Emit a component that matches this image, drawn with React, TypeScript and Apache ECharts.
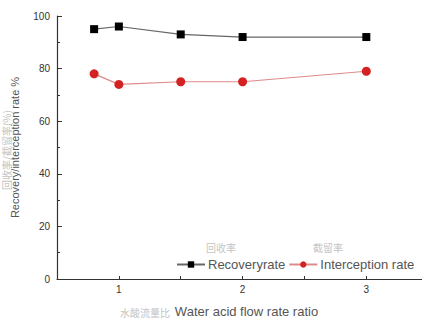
import React, { useEffect, useRef } from "react";
import * as echarts from "echarts";

const ratios = [0.8, 1, 1.5, 2, 3];
const recoveryRate = [95, 96, 93, 92, 92];
const interceptionRate = [78, 74, 75, 75, 79];
const xTickValues = [1, 1.5, 2, 2.5, 3];
const xLabelValues = [1, 2, 3];
const seriesNames = ["Recoveryrate", "Interception rate"];
const seriesNamesZh = ["回收率", "截留率"];
const xAxisName = "Water acid flow rate ratio";
const xAxisNameZh = "水酸流量比";
const yAxisName = "Recovery/interception rate %";
const yAxisNameZh = "回收率/截留率(%)";

export default function App() {
  const ref = useRef<HTMLDivElement>(null);
  useEffect(() => {
    const chart = echarts.init(ref.current!, null, { renderer: "svg" });
    const font = "Arial, 'Liberation Sans', sans-serif";
    const zhStyle = { fill: "#c4c4c4", fontSize: 10, fontFamily: "'Noto Sans CJK SC'" };
    chart.setOption({
      animation: false,
      backgroundColor: "#ffffff",
      textStyle: { fontFamily: font },
      grid: { left: 57, top: 16, bottom: 37, right: 0, containLabel: false },
      legend: {
        orient: "horizontal",
        left: 171,
        top: 253,
        width: 251,
        itemWidth: 28,
        itemHeight: 8,
        itemGap: 3,
        textStyle: { fontSize: 13, color: "#555", fontFamily: font, padding: [0, 0, 0, -2] },
        data: seriesNames,
      },
      xAxis: {
        type: "value",
        min: 0.5,
        max: 3.45,
        interval: 0.5,
        name: xAxisName,
        nameLocation: "middle",
        nameGap: 26,
        nameTextStyle: { fontSize: 13, color: "#555", padding: [0, 0, 0, 14] },
        axisLine: { lineStyle: { color: "#333", width: 1.2 } },
        axisTick: { show: true, inside: true, length: 3, customValues: xTickValues, lineStyle: { color: "#333" } },
        axisLabel: {
          customValues: xLabelValues,
          fontSize: 10,
          color: "#333",
          margin: 5,
          formatter: (v: number) => String(v),
        },
        splitLine: { show: false },
      },
      yAxis: {
        type: "value",
        min: 0,
        max: 100,
        interval: 20,
        name: yAxisName,
        nameLocation: "middle",
        nameGap: 37,
        nameTextStyle: { fontSize: 11, color: "#555" },
        axisLine: { show: true, lineStyle: { color: "#333", width: 1.2 } },
        axisTick: { show: true, inside: true, length: 5, lineStyle: { color: "#333" } },
        minorTick: { show: true, splitNumber: 2, length: 3, lineStyle: { color: "#333" } },
        axisLabel: { fontSize: 10, color: "#333", margin: 7 },
        splitLine: { show: false },
      },
      graphic: [
        { type: "text", left: 206, top: 242, z: -1, style: { text: seriesNamesZh[0], ...zhStyle } },
        { type: "text", left: 313, top: 242, z: -1, style: { text: seriesNamesZh[1], ...zhStyle } },
        { type: "text", left: 120, top: 307, z: -1, style: { text: xAxisNameZh, ...zhStyle } },
        {
          type: "text",
          x: 6,
          y: 150,
          rotation: Math.PI / 2,
          z: -1,
          style: { text: yAxisNameZh, ...zhStyle, align: "center", verticalAlign: "middle" },
        },
      ],
      series: [
        {
          name: seriesNames[0],
          type: "line",
          data: ratios.map((x, i) => [x, recoveryRate[i]]),
          symbol: "rect",
          symbolSize: 8,
          itemStyle: { color: "#000" },
          lineStyle: { color: "#666", width: 1.2 },
        },
        {
          name: seriesNames[1],
          type: "line",
          data: ratios.map((x, i) => [x, interceptionRate[i]]),
          symbol: "circle",
          symbolSize: 9,
          itemStyle: { color: "#d42222" },
          lineStyle: { color: "#e08a8a", width: 1.2 },
        },
      ],
    });
    return () => chart.dispose();
  }, []);
  return (
    <div
      ref={ref}
      style={{ position: "fixed", left: 0, top: 0, width: 422, height: 323 }}
    />
  );
}
